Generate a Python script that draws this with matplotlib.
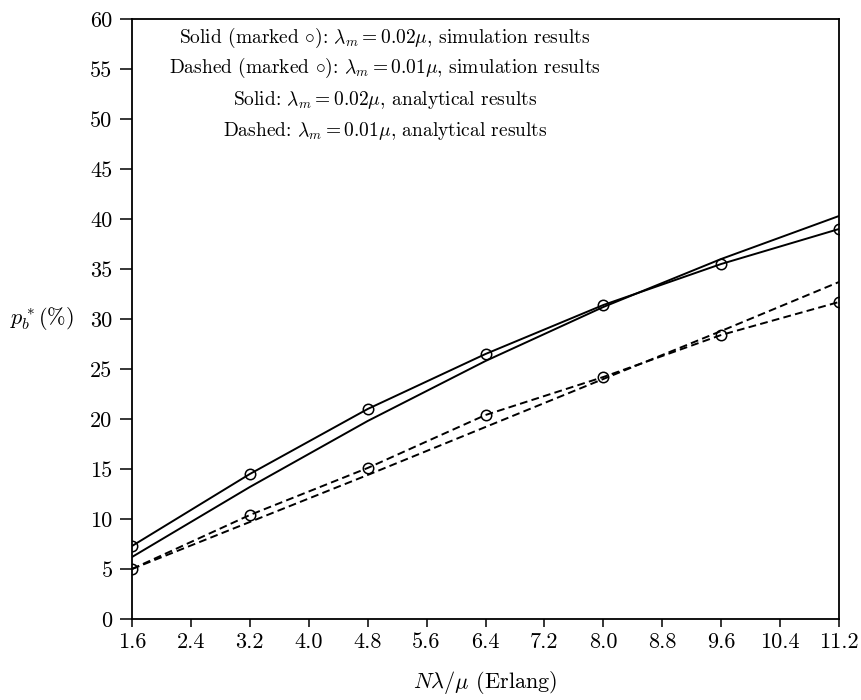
import matplotlib
matplotlib.use("Agg")
import matplotlib.pyplot as plt

plt.rcParams['font.family'] = ['serif']
plt.rcParams['font.serif'] = ['cmr10', 'DejaVu Serif']
plt.rcParams['mathtext.fontset'] = 'cm'
plt.rcParams['axes.formatter.use_mathtext'] = True

x = [1.6, 3.2, 4.8, 6.4, 8.0, 9.6, 11.2]
sim_002 = [7.3, 14.5, 21.0, 26.5, 31.4, 35.5, 39.0]
ana_002 = [6.2, 13.2, 19.8, 25.8, 31.2, 36.0, 40.3]
sim_001 = [5.0, 10.4, 15.1, 20.4, 24.2, 28.4, 31.7]
ana_001 = [5.0, 9.7, 14.4, 19.2, 24.0, 28.8, 33.7]

xticks = [1.6, 2.4, 3.2, 4.0, 4.8, 5.6, 6.4, 7.2, 8.0, 8.8, 9.6, 10.4, 11.2]
xticklabels = ['1.6', '2.4', '3.2', '4.0', '4.8', '5.6', '6.4', '7.2', '8.0', '8.8', '9.6', '10.4', '11.2']
yticks = [0, 5, 10, 15, 20, 25, 30, 35, 40, 45, 50, 55, 60]

notes = [r'Solid (marked $\circ$): $\lambda_m = 0.02\mu$, simulation results',
         r'Dashed (marked $\circ$): $\lambda_m = 0.01\mu$, simulation results',
         r'Solid: $\lambda_m = 0.02\mu$, analytical results',
         r'Dashed: $\lambda_m = 0.01\mu$, analytical results']

fig = plt.figure(figsize=(8.61, 7.0), dpi=100)
ax = fig.add_axes([132/861, 1-619/700, (839-132)/861, (619-19)/700])

lw = 1.4
dash = (0, (4, 2.2))
ax.plot(x, sim_002, color='black', lw=lw, marker='o', mfc='none', mec='black', ms=7.5, mew=1.1)
ax.plot(x, ana_002, color='black', lw=lw)
ax.plot(x, sim_001, color='black', lw=lw, ls=dash, marker='o', mfc='none', mec='black', ms=7.5, mew=1.1)
ax.plot(x, ana_001, color='black', lw=lw, ls=dash)

ax.set_xlim(1.6, 11.2)
ax.set_ylim(0, 60)
ax.set_xticks(xticks)
ax.set_xticklabels(xticklabels, fontsize=16)
ax.set_yticks(yticks)
ax.set_yticklabels([str(v) for v in yticks], fontsize=16)
ax.tick_params(axis='y', direction='out', length=9, width=1.1, pad=5)
ax.tick_params(axis='x', direction='out', length=6, width=1.1, pad=4)
for s in ax.spines.values():
    s.set_linewidth(1.3)

ys = [38, 68, 100, 131]
for t, yp in zip(notes, ys):
    fig.text(385/861, 1 - yp/700, t, ha='center', va='center', fontsize=14)

fig.text(42/861, 1 - 319/700, r'$p_b^*(\%)$', ha='center', va='center', fontsize=16)
fig.text(485/861, 1 - 683/700, r'$N\lambda/\mu$ (Erlang)', ha='center', va='center', fontsize=16)

fig.savefig('out.png', dpi=100)
